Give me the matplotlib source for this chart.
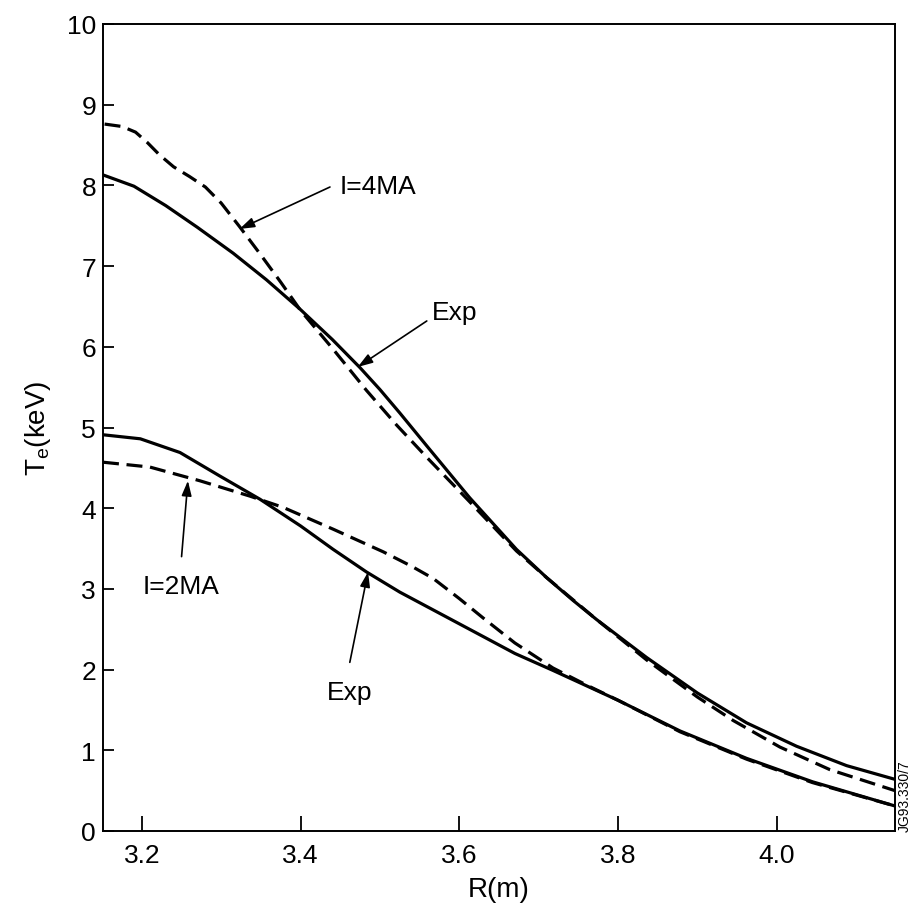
import matplotlib
matplotlib.use("Agg")
import matplotlib.pyplot as plt

plt.rcParams['font.family'] = ['Liberation Sans', 'DejaVu Sans']
plt.rcParams['mathtext.fontset'] = 'custom'
plt.rcParams['mathtext.rm'] = 'Liberation Sans'
plt.rcParams['mathtext.it'] = 'Liberation Sans'

# ---- data ----
r_exp_4ma = [3.151, 3.19, 3.23, 3.27, 3.315, 3.357, 3.40, 3.44, 3.475, 3.50, 3.525, 3.56,
             3.613, 3.672, 3.71, 3.743, 3.773, 3.836, 3.90, 3.962, 4.025, 4.088, 4.149]
te_exp_4ma = [8.13, 7.99, 7.75, 7.48, 7.16, 6.83, 6.46, 6.09, 5.74, 5.47, 5.18, 4.76,
              4.13, 3.49, 3.14, 2.86, 2.62, 2.15, 1.71, 1.34, 1.05, 0.81, 0.64]

r_mod_4ma = [3.153, 3.175, 3.192, 3.207, 3.222, 3.24, 3.26, 3.28, 3.30, 3.323, 3.349,
             3.375, 3.40, 3.441, 3.483, 3.521, 3.56, 3.613, 3.672, 3.71, 3.773, 3.836,
             3.90, 3.945, 4.004, 4.067, 4.149]
te_mod_4ma = [8.76, 8.73, 8.66, 8.53, 8.38, 8.23, 8.11, 7.98, 7.78, 7.49, 7.15,
              6.80, 6.45, 5.97, 5.46, 5.03, 4.62, 4.08, 3.47, 3.14, 2.62, 2.12,
              1.66, 1.37, 1.04, 0.76, 0.50]

r_exp_2ma = [3.151, 3.198, 3.248, 3.298, 3.349, 3.40, 3.441, 3.483, 3.525, 3.588, 3.63,
             3.67, 3.718, 3.80, 3.878, 3.962, 4.045, 4.149]
te_exp_2ma = [4.91, 4.86, 4.69, 4.40, 4.11, 3.78, 3.49, 3.21, 2.96, 2.63, 2.41,
              2.20, 1.99, 1.62, 1.24, 0.90, 0.61, 0.31]

r_mod_2ma = [3.151, 3.21, 3.273, 3.336, 3.378, 3.441, 3.504, 3.54, 3.567, 3.60, 3.63,
             3.67, 3.718, 3.76, 3.80, 3.878, 3.962, 4.045, 4.149]
te_mod_2ma = [4.57, 4.51, 4.34, 4.15, 4.01, 3.74, 3.46, 3.28, 3.13, 2.88, 2.64,
              2.33, 2.02, 1.81, 1.62, 1.23, 0.89, 0.60, 0.31]

x_ticks = [3.2, 3.4, 3.6, 3.8, 4.0]
x_ticklabels = ['3.2', '3.4', '3.6', '3.8', '4.0']
y_ticks = list(range(0, 11))

# ---- figure ----
fig = plt.figure(figsize=(9.11, 9.2), dpi=100)
ax = fig.add_axes([103/911, 88/920, 792/911, 807/920])

lw = 2.3
dash = (0, (5, 2.4))
ax.plot(r_exp_4ma, te_exp_4ma, color='black', lw=lw, solid_joinstyle='round')
ax.plot(r_mod_4ma, te_mod_4ma, color='black', lw=lw, linestyle=dash)
ax.plot(r_exp_2ma, te_exp_2ma, color='black', lw=lw, solid_joinstyle='round')
ax.plot(r_mod_2ma, te_mod_2ma, color='black', lw=lw, linestyle=dash)

ax.set_xlim(3.151, 4.149)
ax.set_ylim(0, 10)
ax.set_xticks(x_ticks)
ax.set_xticklabels(x_ticklabels)
ax.set_yticks(y_ticks)

ax.tick_params(axis='both', direction='in', labelsize=19, width=1.3, color='black')
ax.tick_params(axis='x', length=11, pad=9)
ax.tick_params(axis='y', length=8, pad=5)
for s in ax.spines.values():
    s.set_linewidth(1.4)

ax.set_xlabel('R(m)', fontsize=20, labelpad=6)
ax.set_ylabel('T$_\\mathrm{e}$(keV)', fontsize=20, labelpad=10)

arrow = dict(arrowstyle='-|>,head_length=0.9,head_width=0.3', color='black', lw=1.2,
             shrinkA=0, shrinkB=0)
fs = 19
ax.text(3.449, 7.99, 'I=4MA', fontsize=fs, va='center', ha='left')
ax.annotate('', xy=(3.323, 7.46), xytext=(3.437, 7.98), arrowprops=arrow)

ax.text(3.565, 6.43, 'Exp', fontsize=fs, va='center', ha='left')
ax.annotate('', xy=(3.472, 5.75), xytext=(3.559, 6.32), arrowprops=arrow)

ax.text(3.201, 3.04, 'I=2MA', fontsize=fs, va='center', ha='left')
ax.annotate('', xy=(3.258, 4.34), xytext=(3.250, 3.40), arrowprops=arrow)

ax.text(3.462, 1.72, 'Exp', fontsize=fs, va='center', ha='center')
ax.annotate('', xy=(3.485, 3.21), xytext=(3.462, 2.09), arrowprops=arrow)

fig.text(905/911, 1 - 832/920, 'JG93.330/7', rotation=90, fontsize=10,
         ha='center', va='bottom')

fig.savefig('out.png', dpi=100)
